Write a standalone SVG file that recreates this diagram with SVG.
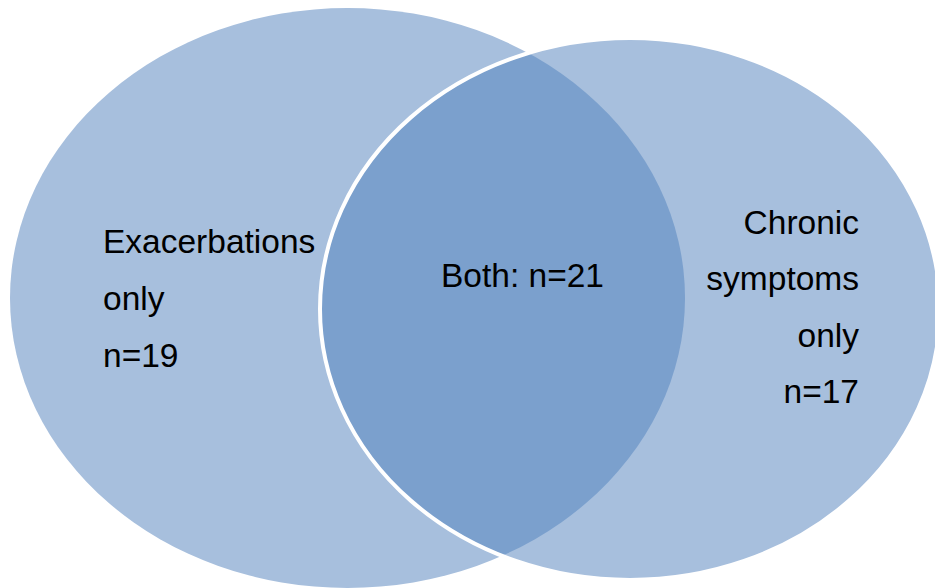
<svg xmlns="http://www.w3.org/2000/svg" width="935" height="588" viewBox="0 0 935 588">
<style>
.light{fill:#A7BFDD}
.dark{fill:#7BA0CD}
.lbl{font-family:"Liberation Sans",Arial,sans-serif;font-size:33.5px;fill:#000}
.r{text-anchor:end}
</style>
<defs>
<clipPath id="clipL"><ellipse cx="347.5" cy="298" rx="337.5" ry="290"/></clipPath>
</defs>
<rect width="935" height="588" fill="#fff"/>
<g id="exacerbations">
<ellipse class="light" cx="347.5" cy="298" rx="337.5" ry="290"/>
</g>
<g id="chronic">
<ellipse class="light" cx="630" cy="309" rx="310" ry="271"/>
</g>
<g id="both">
<ellipse class="dark" cx="630" cy="309" rx="310" ry="271" clip-path="url(#clipL)"/>
<ellipse cx="630" cy="309" rx="310" ry="271" fill="none" stroke="#fff" stroke-width="4"/>
</g>
<g id="connectors"></g>
<g id="labels">
<text class="lbl" x="103" y="253">Exacerbations</text>
<text class="lbl" x="103" y="310">only</text>
<text class="lbl" x="103" y="367">n=19</text>
<text class="lbl" x="441" y="287">Both: n=21</text>
<text class="lbl r" x="859" y="234">Chronic</text>
<text class="lbl r" x="859" y="290">symptoms</text>
<text class="lbl r" x="859" y="347">only</text>
<text class="lbl r" x="859" y="403">n=17</text>
</g>
</svg>
